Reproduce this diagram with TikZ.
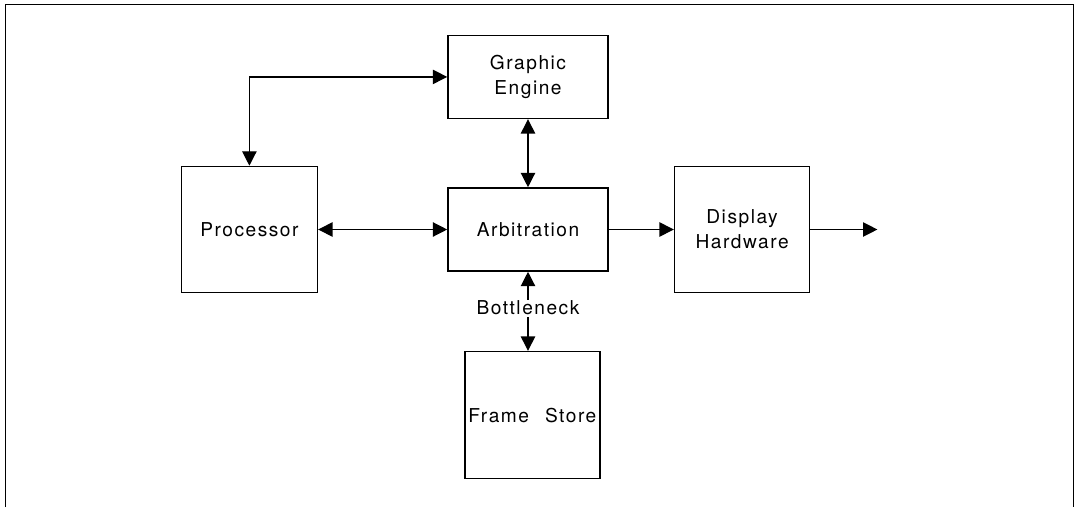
\documentclass[tikz,border=0pt]{standalone}
\usepackage{fontspec}
\setmainfont{TeX Gyre Heros}[LetterSpace=8]
\usetikzlibrary{arrows.meta,positioning}

\begin{document}
\begin{tikzpicture}[
  x=0.025cm, y=-0.025cm,
  font=\fontsize{13.6}{18}\selectfont,
  box/.style={draw, line width=1.1pt, align=center, inner sep=2pt},
  wbox/.style={box, minimum width=4cm, minimum height=2.075cm},
  tbox/.style={box, minimum width=3.4cm, minimum height=3.15cm},
  arr/.style={-{Triangle[length=3.6mm, width=3.6mm]}, line width=0.9pt},
  biarr/.style={{Triangle[length=3.6mm, width=3.6mm]}-{Triangle[length=3.6mm, width=3.6mm]}, line width=0.9pt},
  lab/.style={fill=white, inner sep=1pt}
]
\useasboundingbox (0,0) rectangle (1077,507);
\draw[line width=0.7pt] (5,507) -- (5,4) -- (1073,4) -- (1073,507);
\node[wbox] (arb) at (528,229.5) {Arbitration};
\node[wbox, above=1.7cm of arb] (ge) {Graphic\\ Engine};
\node[tbox, left=3.225cm of arb] (proc) {Processor};
\node[tbox, right=1.625cm of arb, minimum width=3.375cm] (dh) {Display\\ Hardware};
\node[tbox, below=1.975cm of arb, xshift=0.11cm, minimum width=3.375cm, minimum height=3.175cm] (fs) {Frame\hspace{0.4cm}Store};
\coordinate[right=1.675cm of dh.east] (out);
\draw[biarr] (proc.north) |- (ge.west);
\draw[biarr] (ge) -- (arb);
\draw[biarr] (proc) -- (arb);
\draw[arr] (arb) -- (dh);
\draw[arr] (dh) -- (out);
\draw[biarr] (arb.south) -- (arb.south |- fs.north) node[lab, pos=0.46] (bn) {Bottleneck};
\end{tikzpicture}
\end{document}
